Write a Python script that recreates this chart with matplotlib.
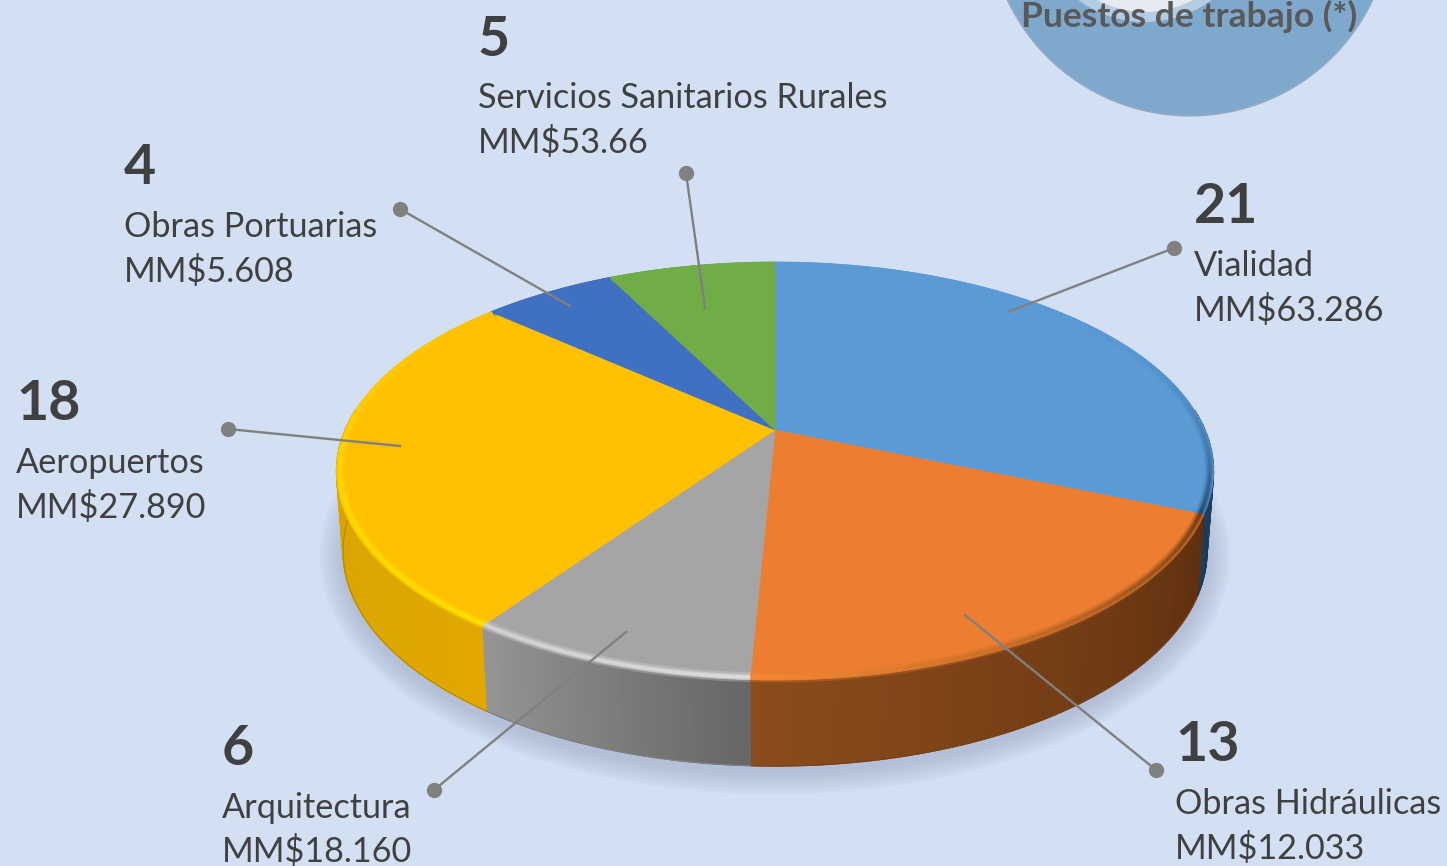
import numpy as np
import matplotlib
matplotlib.use("Agg")
import matplotlib.pyplot as plt
from matplotlib.collections import LineCollection
from matplotlib.colors import to_rgb
from matplotlib.patches import Circle, Polygon

plt.rcParams["font.family"] = ["Lato", "DejaVu Sans"]

# data
categories = ["Vialidad", "Obras Hidráulicas", "Arquitectura", "Aeropuertos", "Obras Portuarias", "Servicios Sanitarios Rurales"]
jobs = [21, 13, 6, 18, 4, 5]
amounts = ["MM$63.286", "MM$12.033", "MM$18.160", "MM$27.890", "MM$5.608", "MM$53.66"]

# styles, from/to follow the slice clockwise
BG = "#D3DFF2"
top_colors = ["#5B9BD5", "#ED7D31", "#A5A5A5", "#FFC000", "#3F70C1", "#70AD47"]
wall_from = ["#2F5F8F", "#5E3010", "#666666", "#E0A800", "#2A4A80", "#4A7030"]
wall_to = ["#1F3C5C", "#8C4C1C", "#959595", "#D4A000", "#2A4A80", "#4A7030"]
rim_from = ["#5B9BD5", "#6E3A14", "#E0E0E0", "#FFE000", "#3F70C1", "#70AD47"]
rim_to = ["#244A72", "#F58A33", "#D4D4D4", "#FFC000", "#3F70C1", "#70AD47"]
rim_power = [5, 0.8, 1, 1.5, 1, 1]

# layout, pixels: text x, baselines of the three lines, dot, inner end of leader
text_x = [1194, 1175, 222, 16, 124, 478]
baselines = [(223, 276, 321), (761, 814, 859), (765, 818, 862), (420, 473, 518), (184, 237, 282), (56, 108, 153)]
dots = [(1174, 248), (1156, 770), (434, 790), (228, 429), (400, 209), (686, 173)]
leader_ends = [(1008, 312), (965, 615), (626, 632), (400, 446), (570, 306), (705, 308)]

CX, CY = 775, 430
PERSP = 0.196
RX, RY = 430, 201


def project(theta_deg, r=1.0):
    """Circle of the pie top to picture pixels, with a little perspective."""
    t = np.radians(theta_deg)
    u, v = r * np.cos(t), r * np.sin(t)
    w = 1 + PERSP * v
    return CX + RX * u / w, CY - RY * v / w


def lower(x, y):
    """Matching point on the bottom edge of the wall."""
    return CX + 0.985 * (x - CX), y + 80 + 6 * (y - 460) / 220


def mix(c1, c2, f):
    return tuple((1 - f) * a + f * b for a, b in zip(to_rgb(c1), to_rgb(c2)))


fig = plt.figure(figsize=(14.47, 8.66), dpi=100, facecolor=BG)
ax = fig.add_axes([0, 0, 1, 1])
ax.set_xlim(0, 1447)
ax.set_ylim(866, 0)
ax.axis("off")

# bubble at the top right
ax.add_patch(Circle((1190, -86), 201.5, fc="#7FA8CD", ec="#8FA9C4", lw=1.5, zorder=1))
ax.add_patch(Circle((1145, -90), 112, fc="#B4CDE3", ec="none", zorder=1.1))
ax.add_patch(Circle((1145, -90), 102, fc="#E4EAF0", ec="none", zorder=1.2))
ax.text(1021, 27, "Puestos de trabajo (*)", fontsize=25.5, fontweight="bold", color="#595959", zorder=6)

edges = 90 - np.cumsum([0] + jobs) / sum(jobs) * 360
circle = np.linspace(0, 360, 361)

# soft shadow under the pie
sx, sy = lower(*project(circle))
for grow in np.linspace(24, 2, 14):
    ax.fill(CX + (sx - CX) * (1 + grow / 430), 560 + (sy - 560) * (1 + grow / 215) + 6,
            color="#9AA8C4", alpha=0.045, lw=0, zorder=1.5)

# side wall, only the part facing us, small quads so the shade can run along each slice
for i in range(len(jobs)):
    angles = np.linspace(edges[i], edges[i + 1], 80)
    front = np.sin(np.radians(angles)) < 0.12
    x, y = project(angles)
    bx, by = lower(x, y)
    for k in range(len(angles) - 1):
        if not (front[k] and front[k + 1]):
            continue
        c = mix(wall_from[i], wall_to[i], k / (len(angles) - 2))
        ax.fill([x[k], x[k + 1], bx[k + 1], bx[k]], [y[k], y[k + 1], by[k + 1], by[k]],
                color=c, lw=1, zorder=2)
    if front.any():
        ax.plot(bx[front], by[front], color=mix(wall_to[i], "#000000", 0.15), lw=0.8, zorder=2.1)

# top faces
for i in range(len(jobs)):
    angles = np.linspace(edges[i], edges[i + 1], 160)
    x, y = project(angles)
    ax.fill(np.r_[CX, x], np.r_[CY, y], color=top_colors[i], lw=0.5, zorder=3)

# outline of the whole disc, the bevel must not spill out of it
ang_back = np.linspace(-10, 190, 120)
ang_front = np.linspace(190, 350, 120)
ox, oy = project(ang_back)
fx, fy = lower(*project(ang_front))
outline = Polygon(np.column_stack([np.r_[ox, fx], np.r_[oy, fy]]), transform=ax.transData)

# bevel on the rim, wide faint line under a narrow strong one
for i in range(len(jobs)):
    angles = np.linspace(edges[i], edges[i + 1], 160)
    x, y = project(angles, 0.992)
    pts = np.column_stack([x, y]).reshape(-1, 1, 2)
    segs = np.concatenate([pts[:-1], pts[1:]], axis=1)
    cols = [mix(rim_from[i], rim_to[i], f ** rim_power[i]) for f in np.linspace(0, 1, len(segs))]
    for lw, alpha in [(7, 0.3), (4, 0.5), (2.2, 0.9)]:
        lc = LineCollection(segs, colors=cols, linewidths=lw, alpha=alpha, capstyle="butt", zorder=3.5)
        ax.add_collection(lc)
        lc.set_clip_path(outline)

# leaders and labels
for i, name in enumerate(categories):
    (dx, dy), (ex, ey) = dots[i], leader_ends[i]
    ax.plot([dx, ex], [dy, ey], color="#808080", lw=1.7, zorder=4)
    ax.plot(dx, dy, "o", ms=11, color="#808080", mew=0, zorder=4.1)
    b0, b1, b2 = baselines[i]
    ax.text(text_x[i], b0, str(jobs[i]), fontsize=40, fontweight="bold", color="#404040", zorder=6)
    ax.text(text_x[i], b1, name, fontsize=24.7, color="#404040", zorder=6)
    ax.text(text_x[i], b2, amounts[i], fontsize=24.7, color="#404040", zorder=6)

fig.savefig("out.png", dpi=100, facecolor=BG)
